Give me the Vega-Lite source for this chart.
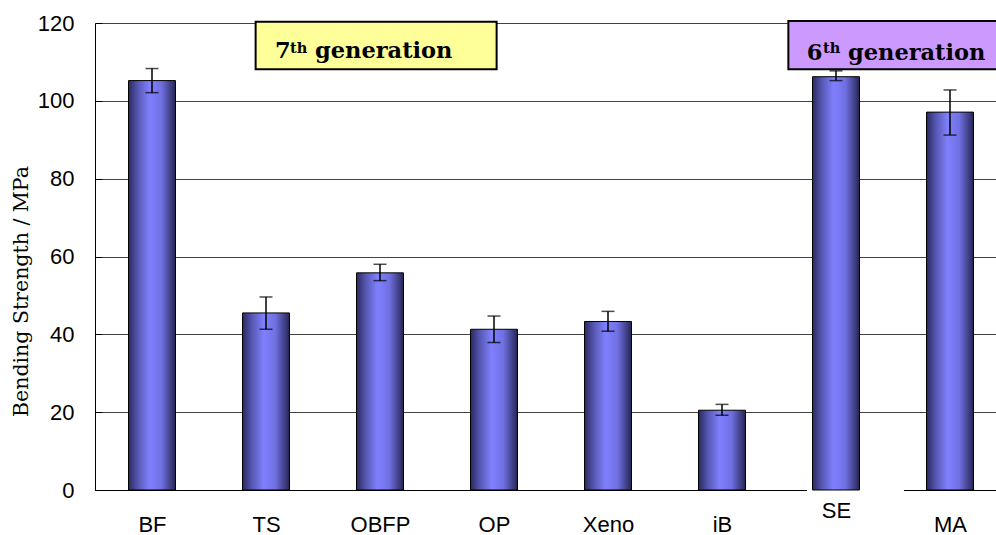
{
  "$schema": "https://vega.github.io/schema/vega-lite/v6.json",
  "width": 901,
  "height": 467,
  "autosize": {"type": "none"},
  "padding": {"left": 95, "top": 23, "right": 0, "bottom": 45},
  "background": "white",
  "config": {"view": {"stroke": null}},
  "datasets": {
    "bars": [
      {"material": "BF", "strength": 105.2, "lo": 102.1, "hi": 108.3},
      {"material": "TS", "strength": 45.5, "lo": 41.3, "hi": 49.6},
      {"material": "OBFP", "strength": 55.8, "lo": 53.8, "hi": 58.0},
      {"material": "OP", "strength": 41.3, "lo": 37.9, "hi": 44.7},
      {"material": "Xeno", "strength": 43.3, "lo": 40.8, "hi": 45.9},
      {"material": "iB", "strength": 20.5, "lo": 19.2, "hi": 22.0},
      {"material": "SE", "strength": 106.2, "lo": 105.2, "hi": 107.7},
      {"material": "MA", "strength": 97.1, "lo": 91.2, "hi": 102.8}
    ],
    "notes": [
      {"gen": "7th", "num": "7", "sup": "th", "word": "generation", "bx1": 1.409, "bx2": 3.523, "by1": 108.1, "by2": 120.3, "xn": 1.579, "xs": 1.711, "xw": 1.93, "yb": 110.9, "ys": 112.2},
      {"gen": "6th", "num": "6", "sup": "th", "word": "generation", "bx1": 6.082, "bx2": 8.1, "by1": 108.1, "by2": 120.5, "xn": 6.243, "xs": 6.386, "xw": 6.605, "yb": 110.5, "ys": 112.4}
    ],
    "gap": [{"from": 6.245, "to": 7.096, "level": 0}]
  },
  "resolve": {
    "scale": {"x": "independent", "y": "independent"},
    "axis": {"x": "independent", "y": "independent"}
  },
  "layer": [
    {
      "data": {"name": "gap"},
      "mark": {"type": "rule", "color": "white", "strokeWidth": 3},
      "encoding": {
        "x": {"field": "from", "type": "quantitative", "scale": {"domain": [0, 8], "range": [0, 912], "nice": false, "zero": false}, "axis": null},
        "x2": {"field": "to"},
        "y": {"field": "level", "type": "quantitative", "scale": {"domain": [0, 120], "nice": false}, "axis": null}
      }
    },
    {
      "data": {"name": "bars"},
      "encoding": {
        "x": {
          "field": "material", "type": "nominal", "sort": null,
          "scale": {"range": [0, 912], "paddingInner": 0.588, "paddingOuter": 0.294},
          "axis": {
            "title": null, "labelAngle": 0, "tickBand": "extent", "tickSize": -7,
            "tickColor": "#000", "domainColor": "#000", "grid": false, "zindex": 0,
            "labelFont": "Liberation Sans", "labelFontSize": 22, "labelColor": "#000",
            "labelPadding": {"condition": {"test": "datum.value === 'SE'", "value": 17}, "value": 31}
          }
        }
      },
      "layer": [
        {
          "mark": {
            "type": "bar", "stroke": "#000", "strokeWidth": 1,
            "fill": {"gradient": "linear", "x1": 0, "y1": 0, "x2": 1, "y2": 0,
              "stops": [
                {"offset": 0, "color": "#2a2a5e"},
                {"offset": 0.2, "color": "#5757b3"},
                {"offset": 0.45, "color": "#8080ff"},
                {"offset": 0.7, "color": "#7070e2"},
                {"offset": 1, "color": "#262656"}
              ]}
          },
          "encoding": {
            "y": {
              "field": "strength", "type": "quantitative",
              "scale": {"domain": [0, 120], "nice": false},
              "title": "Bending Strength / MPa",
              "axis": {
                "values": [0, 20, 40, 60, 80, 100, 120], "grid": true, "gridColor": "#444", "gridWidth": 1,
                "domainColor": "#000", "tickColor": "#000", "tickSize": -7, "zindex": 0,
                "labelFont": "Liberation Sans", "labelFontSize": 22, "labelColor": "#000", "labelPadding": 28,
                "titleFont": "DejaVu Serif", "titleFontSize": 20.5, "titleFontWeight": "normal", "titleColor": "#000",
                "titlePadding": 6, "titleY": 268
              }
            }
          }
        },
        {
          "mark": {"type": "rule", "color": "#000", "strokeWidth": 1.5},
          "encoding": {
            "y": {"field": "lo", "type": "quantitative", "title": "Bending Strength / MPa"},
            "y2": {"field": "hi"}
          }
        },
        {
          "mark": {"type": "tick", "color": "#000", "size": 13, "thickness": 1.5},
          "encoding": {"y": {"field": "lo", "type": "quantitative", "title": "Bending Strength / MPa"}}
        },
        {
          "mark": {"type": "tick", "color": "#000", "size": 13, "thickness": 1.5},
          "encoding": {"y": {"field": "hi", "type": "quantitative", "title": "Bending Strength / MPa"}}
        }
      ]
    },
    {
      "data": {"name": "notes"},
      "layer": [
        {
          "mark": {"type": "rect", "stroke": "#000", "strokeWidth": 2},
          "encoding": {
            "x": {"field": "bx1", "type": "quantitative", "scale": {"domain": [0, 8], "range": [0, 912], "nice": false, "zero": false}, "axis": null},
            "x2": {"field": "bx2"},
            "y": {"field": "by1", "type": "quantitative", "scale": {"domain": [0, 120], "nice": false}, "axis": null},
            "y2": {"field": "by2"},
            "fill": {"field": "gen", "type": "nominal", "scale": {"domain": ["7th", "6th"], "range": ["#ffff99", "#cc99ff"]}, "legend": null}
          }
        },
        {
          "mark": {"type": "text", "font": "DejaVu Serif", "fontWeight": "bold", "fontSize": 22.5, "align": "left", "baseline": "alphabetic", "color": "#000"},
          "encoding": {
            "x": {"field": "xn", "type": "quantitative", "axis": null},
            "y": {"field": "yb", "type": "quantitative", "axis": null},
            "text": {"field": "num"}
          }
        },
        {
          "mark": {"type": "text", "font": "DejaVu Serif", "fontWeight": "bold", "fontSize": 14.5, "align": "left", "baseline": "alphabetic", "color": "#000"},
          "encoding": {
            "x": {"field": "xs", "type": "quantitative", "axis": null},
            "y": {"field": "ys", "type": "quantitative", "axis": null},
            "text": {"field": "sup"}
          }
        },
        {
          "mark": {"type": "text", "font": "DejaVu Serif", "fontWeight": "bold", "fontSize": 22.5, "align": "left", "baseline": "alphabetic", "color": "#000"},
          "encoding": {
            "x": {"field": "xw", "type": "quantitative", "axis": null},
            "y": {"field": "yb", "type": "quantitative", "axis": null},
            "text": {"field": "word"}
          }
        }
      ]
    }
  ]
}
